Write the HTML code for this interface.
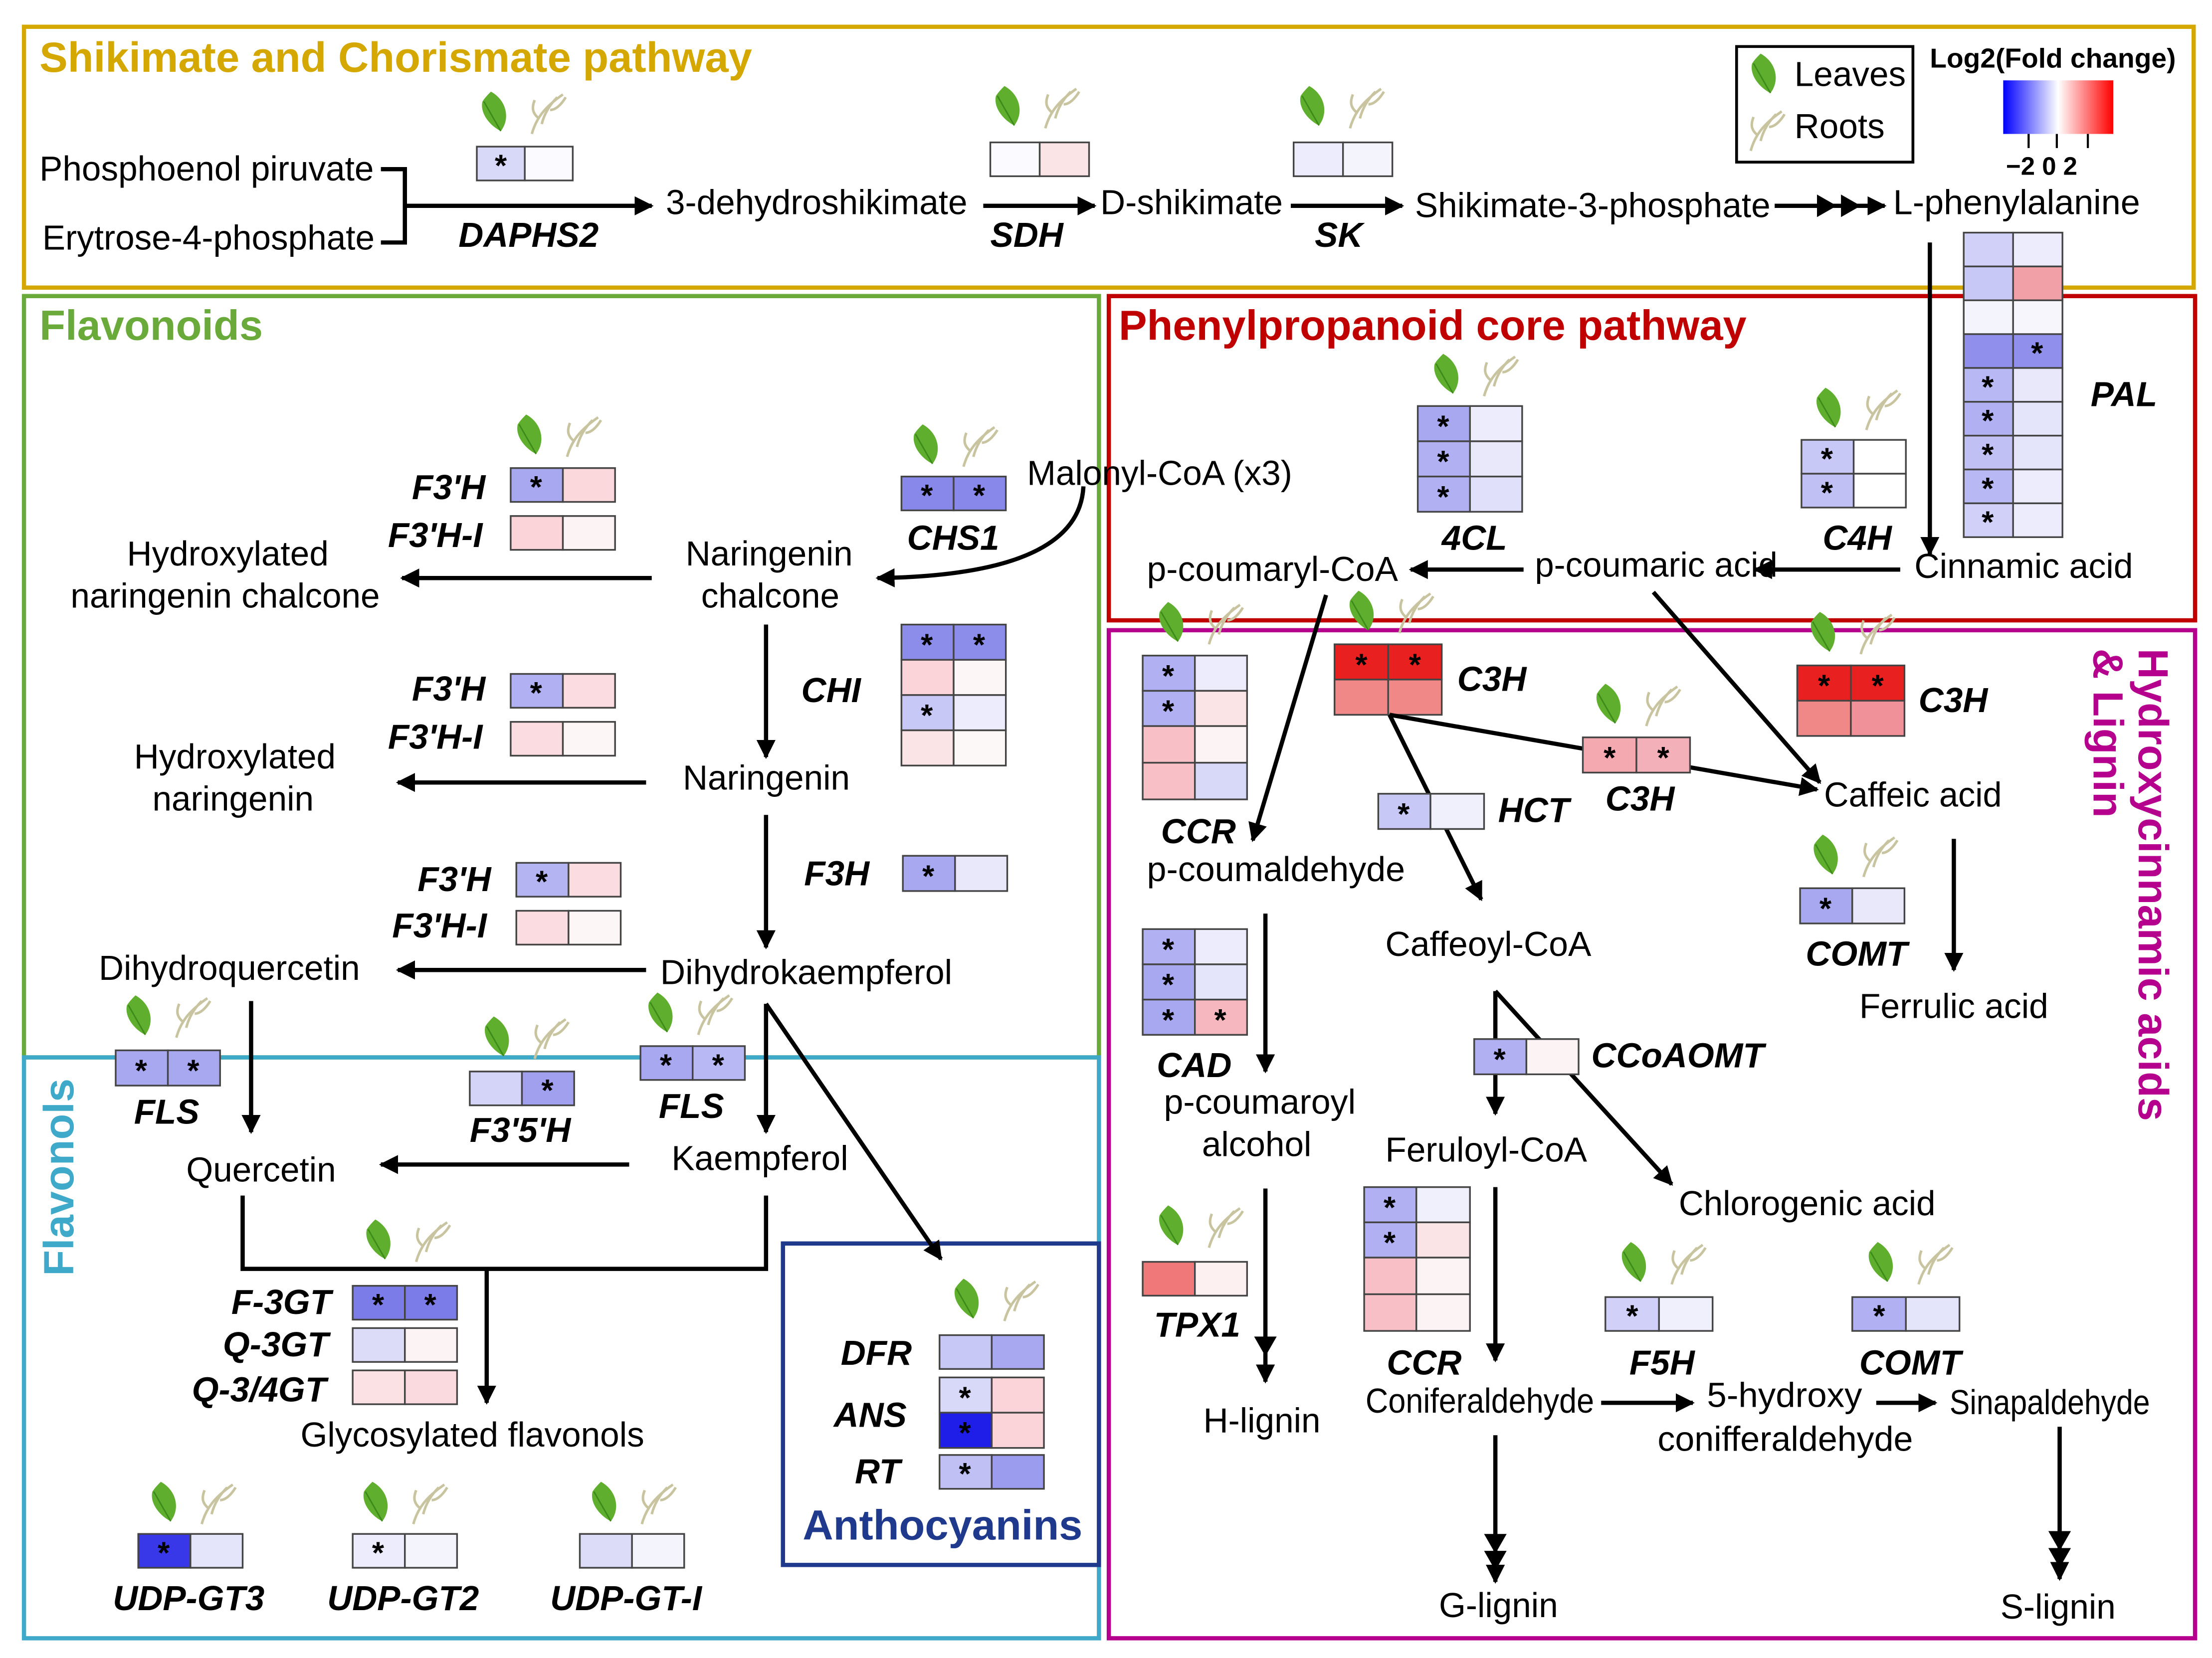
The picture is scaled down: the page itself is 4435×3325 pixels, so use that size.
<!DOCTYPE html>
<html><head><meta charset="utf-8"><style>html,body{margin:0;padding:0;background:#fff}svg{display:block}</style></head><body>
<svg xmlns="http://www.w3.org/2000/svg" width="4435" height="3325" viewBox="0 0 1568 1176" preserveAspectRatio="none" font-family="Liberation Sans, Arial, sans-serif">
<defs>
<marker id="a" viewBox="0 0 10 10" refX="9" refY="5" markerWidth="4.5" markerHeight="4.5" orient="auto"><path d="M0,0L10,5L0,10z" fill="#000"/></marker>
<linearGradient id="g" x1="0" x2="1"><stop offset="0" stop-color="#0000ff"/><stop offset="0.5" stop-color="#fff"/><stop offset="1" stop-color="#ff0000"/></linearGradient>
<g id="lf"><path d="M-2,-15 C9,-9 12,4 5,13 C-3,9 -10,0 -8,-8 C-6,-11 -4,-13 -2,-15z" fill="#5FAE2E"/><path d="M-7,-8 C-3,-1 1,6 5,13" stroke="#3c8a1a" stroke-width="1" fill="none"/></g>
<g id="rt" fill="none" stroke="#C8C4A0" stroke-width="1.8"><path d="M-9,15 C-6,4 0,-4 13,-13"/><path d="M-2,8 C0,0 4,-6 9,-11"/><path d="M-4,4 C-9,0 -9,-4 -7,-9"/><path d="M4,-2 C8,-2 12,-6 15,-11"/></g>
<g id="lr"><use href="#lf"/><use href="#rt" x="36"/></g>
</defs>
<style>
text{font-size:24.5px;fill:#000}
.g{font-weight:bold;font-style:italic;font-size:24.5px}
.s{font-size:22px;font-weight:bold;text-anchor:middle}
.ln{stroke:#000;stroke-width:3;fill:none}
.c{stroke:#444;stroke-width:1.2}
.t{font-size:30px;font-weight:bold}
</style>
<rect width="1568" height="1176" fill="#fff"/>
<rect x="17" y="19" width="1538" height="185" fill="none" stroke="#D4A800" stroke-width="3"/>
<rect x="17" y="210" width="762" height="540" fill="none" stroke="#6AAA3A" stroke-width="3"/>
<rect x="17" y="750" width="762" height="412" fill="none" stroke="#3FA9C9" stroke-width="3"/>
<rect x="786" y="210" width="770" height="230" fill="none" stroke="#C00000" stroke-width="3"/>
<rect x="786" y="447" width="770" height="715" fill="none" stroke="#B4008C" stroke-width="3"/>
<rect x="555" y="882" width="224" height="228" fill="#fff" stroke="#1F3A8C" stroke-width="3"/>
<text x="28" y="51" class="t" style="fill:#D4A800">Shikimate and Chorismate pathway</text>
<text x="28" y="241" class="t" style="fill:#6AAA3A">Flavonoids</text>
<text x="793" y="241" class="t" style="fill:#C00000">Phenylpropanoid core pathway</text>
<text transform="translate(52,905) rotate(-90)" class="t" style="fill:#3FA9C9">Flavonols</text>
<text transform="translate(1516,460) rotate(90)" class="t" style="fill:#B4008C">Hydroxycinnamic acids</text>
<text transform="translate(1484,460) rotate(90)" class="t" style="fill:#B4008C">&amp; Lignin</text>
<text x="569" y="1092" class="t" style="fill:#1F3A8C">Anthocyanins</text>

<rect x="1231" y="33" width="125" height="82" fill="#fff" stroke="#000" stroke-width="2"/>
<use href="#lf" x="1250" y="53"/><text x="1272" y="61">Leaves</text>
<use href="#rt" x="1250" y="92"/><text x="1272" y="98">Roots</text>
<text x="1368" y="48" style="font-size:19.5px;font-weight:bold">Log2(Fold change)</text>
<rect x="1420" y="57" width="78" height="38" fill="url(#g)"/>
<path d="M1438,95v10M1458,95v10M1480,95v10" stroke="#000" stroke-width="1.5"/>
<text x="1422" y="124" style="font-size:18px;font-weight:bold">−2 0 2</text>

<text x="28" y="128">Phosphoenol piruvate</text>
<text x="30" y="177">Erytrose-4-phosphate</text>
<path class="ln" d="M270,120H287V172H270"/>
<path class="ln" d="M287,146H462" marker-end="url(#a)"/>
<use href="#lr" x="350" y="80"/>
<rect class="c" x="338" y="104" width="34" height="24" fill="#D8D8F8"/><rect class="c" x="372" y="104" width="34" height="24" fill="#fafaff"/>
<text class="s" x="355" y="125">*</text>
<text class="g" x="325" y="175">DAPHS2</text>
<text x="472" y="152">3-dehydroshikimate</text>
<path class="ln" d="M697,146H776" marker-end="url(#a)"/>
<use href="#lr" x="714" y="76"/>
<rect class="c" x="702" y="101" width="35" height="24" fill="#fafaff"/><rect class="c" x="737" y="101" width="35" height="24" fill="#FBE4E6"/>
<text class="g" x="702" y="175">SDH</text>
<text x="780" y="152">D-shikimate</text>
<path class="ln" d="M915,146H994" marker-end="url(#a)"/>
<use href="#lr" x="930" y="76"/>
<rect class="c" x="917" y="101" width="35" height="24" fill="#ECECFC"/><rect class="c" x="952" y="101" width="35" height="24" fill="#F4F4FC"/>
<text class="g" x="932" y="175">SK</text>
<text x="1003" y="154" textLength="252" lengthAdjust="spacingAndGlyphs">Shikimate-3-phosphate</text>
<path class="ln" d="M1258,146H1336" marker-end="url(#a)"/>
<path d="M1288,138l14,8l-14,8z M1305,138l14,8l-14,8z" fill="#000"/>
<text x="1342" y="152" textLength="175" lengthAdjust="spacingAndGlyphs">L-phenylalanine</text>

<g class="c">
<rect x="1392" y="165" width="35" height="24" fill="#D0D0F8"/><rect x="1427" y="165" width="35" height="24" fill="#ECECFC"/>
<rect x="1392" y="189" width="35" height="24" fill="#C8C8F6"/><rect x="1427" y="189" width="35" height="24" fill="#F2A0A8"/>
<rect x="1392" y="213" width="35" height="24" fill="#F4F4FC"/><rect x="1427" y="213" width="35" height="24" fill="#F6F6FC"/>
<rect x="1392" y="237" width="35" height="24" fill="#9090EC"/><rect x="1427" y="237" width="35" height="24" fill="#9090EC"/>
<rect x="1392" y="261" width="35" height="24" fill="#B8B8F4"/><rect x="1427" y="261" width="35" height="24" fill="#E8E8FA"/>
<rect x="1392" y="285" width="35" height="24" fill="#B0B0F2"/><rect x="1427" y="285" width="35" height="24" fill="#E4E4FA"/>
<rect x="1392" y="309" width="35" height="24" fill="#C0C0F4"/><rect x="1427" y="309" width="35" height="24" fill="#E4E4FA"/>
<rect x="1392" y="333" width="35" height="24" fill="#B8B8F4"/><rect x="1427" y="333" width="35" height="24" fill="#ECECFC"/>
<rect x="1392" y="357" width="35" height="24" fill="#D0D0F8"/><rect x="1427" y="357" width="35" height="24" fill="#ECECFC"/>
</g>
<text class="s" x="1444" y="258">*</text><text class="s" x="1409" y="282">*</text><text class="s" x="1409" y="306">*</text><text class="s" x="1409" y="330">*</text><text class="s" x="1409" y="354">*</text><text class="s" x="1409" y="378">*</text>
<text class="g" x="1482" y="288">PAL</text>
<path class="ln" d="M1368,172V393" marker-end="url(#a)"/>

<use href="#lr" x="1025" y="266"/>
<g class="c"><rect x="1005" y="288" width="37" height="25" fill="#A8A8F0"/><rect x="1042" y="288" width="37" height="25" fill="#ECECFC"/>
<rect x="1005" y="313" width="37" height="25" fill="#B0B0F2"/><rect x="1042" y="313" width="37" height="25" fill="#E8E8FA"/>
<rect x="1005" y="338" width="37" height="25" fill="#B0B0F2"/><rect x="1042" y="338" width="37" height="25" fill="#E0E0FA"/></g>
<text class="s" x="1023" y="310">*</text><text class="s" x="1023" y="335">*</text><text class="s" x="1023" y="360">*</text>
<text class="g" x="1022" y="390">4CL</text>
<use href="#lr" x="1296" y="290"/>
<g class="c"><rect x="1277" y="312" width="37" height="24" fill="#C8C8F6"/><rect x="1314" y="312" width="37" height="24" fill="#fff"/>
<rect x="1277" y="336" width="37" height="24" fill="#C0C0F4"/><rect x="1314" y="336" width="37" height="24" fill="#fff"/></g>
<text class="s" x="1295" y="333">*</text><text class="s" x="1295" y="357">*</text>
<text class="g" x="1292" y="390">C4H</text>
<text x="1357" y="410" textLength="155" lengthAdjust="spacingAndGlyphs">Cinnamic acid</text>
<text x="1088" y="409" textLength="172" lengthAdjust="spacingAndGlyphs">p-coumaric acid</text>
<text x="813" y="412" textLength="178" lengthAdjust="spacingAndGlyphs">p-coumaryl-CoA</text>
<path class="ln" d="M1347,404H1244" marker-end="url(#a)"/>
<path class="ln" d="M1080,404H1000" marker-end="url(#a)"/>
<text x="728" y="344" textLength="188" lengthAdjust="spacingAndGlyphs">Malonyl-CoA (x3)</text>
<use href="#lr" x="656" y="316"/>
<g class="c"><rect x="639" y="338" width="37" height="24" fill="#8888EA"/><rect x="676" y="338" width="37" height="24" fill="#8888EA"/></g>
<text class="s" x="657" y="359">*</text><text class="s" x="694" y="359">*</text>
<text class="g" x="643" y="390">CHS1</text>
<path class="ln" d="M768,345 Q765,408 622,410" marker-end="url(#a)"/>

<text x="486" y="401">Naringenin</text><text x="497" y="431">chalcone</text>
<path class="ln" d="M462,410H285" marker-end="url(#a)"/>
<text x="90" y="401">Hydroxylated</text><text x="50" y="431">naringenin chalcone</text>
<use href="#lr" x="375" y="309"/>
<g class="c"><rect x="362" y="332" width="37" height="24" fill="#A8A8F0"/><rect x="399" y="332" width="37" height="24" fill="#FBD8DC"/>
<rect x="362" y="366" width="37" height="24" fill="#FAD4D8"/><rect x="399" y="366" width="37" height="24" fill="#FCF4F4"/></g>
<text class="s" x="380" y="353">*</text>
<text class="g" x="292" y="354">F3'H</text><text class="g" x="275" y="388">F3'H-I</text>
<path class="ln" d="M543,443V537" marker-end="url(#a)"/>
<text class="g" x="568" y="498">CHI</text>
<g class="c"><rect x="639" y="443" width="37" height="25" fill="#8C8CEA"/><rect x="676" y="443" width="37" height="25" fill="#8C8CEA"/>
<rect x="639" y="468" width="37" height="25" fill="#FAD4D8"/><rect x="676" y="468" width="37" height="25" fill="#FCF6F6"/>
<rect x="639" y="493" width="37" height="25" fill="#C8C8F6"/><rect x="676" y="493" width="37" height="25" fill="#ECECFC"/>
<rect x="639" y="518" width="37" height="25" fill="#FBE4E6"/><rect x="676" y="518" width="37" height="25" fill="#FCF8F8"/></g>
<text class="s" x="657" y="465">*</text><text class="s" x="694" y="465">*</text><text class="s" x="657" y="515">*</text>
<text x="484" y="560">Naringenin</text>
<path class="ln" d="M458,555H282" marker-end="url(#a)"/>
<text x="95" y="545">Hydroxylated</text><text x="108" y="575">naringenin</text>
<g class="c"><rect x="362" y="478" width="37" height="24" fill="#B0B0F2"/><rect x="399" y="478" width="37" height="24" fill="#FBDCE0"/>
<rect x="362" y="512" width="37" height="24" fill="#FBDCE0"/><rect x="399" y="512" width="37" height="24" fill="#FCF6F6"/></g>
<text class="s" x="380" y="499">*</text>
<text class="g" x="292" y="497">F3'H</text><text class="g" x="275" y="531">F3'H-I</text>
<text class="g" x="570" y="628">F3H</text>
<g class="c"><rect x="640" y="607" width="37" height="25" fill="#A8A8F0"/><rect x="677" y="607" width="37" height="25" fill="#E8E8FA"/></g>
<text class="s" x="658" y="629">*</text>
<path class="ln" d="M543,578V672" marker-end="url(#a)"/>
<g class="c"><rect x="366" y="612" width="37" height="24" fill="#B4B4F2"/><rect x="403" y="612" width="37" height="24" fill="#FBDCE0"/>
<rect x="366" y="646" width="37" height="24" fill="#FBDCE0"/><rect x="403" y="646" width="37" height="24" fill="#FCF6F6"/></g>
<text class="s" x="384" y="633">*</text>
<text class="g" x="296" y="632">F3'H</text><text class="g" x="278" y="665">F3'H-I</text>
<text x="70" y="695">Dihydroquercetin</text>
<text x="468" y="698" textLength="207" lengthAdjust="spacingAndGlyphs">Dihydrokaempferol</text>
<path class="ln" d="M458,688H282" marker-end="url(#a)"/>
<path class="ln" d="M178,710V803" marker-end="url(#a)"/>
<path class="ln" d="M543,712V803" marker-end="url(#a)"/>
<path class="ln" d="M543,712L667,893" marker-end="url(#a)"/>

<use href="#lr" x="98" y="721"/>
<g class="c"><rect x="82" y="745" width="37" height="25" fill="#A8A8F0"/><rect x="119" y="745" width="37" height="25" fill="#A8A8F0"/></g>
<text class="s" x="100" y="767">*</text><text class="s" x="137" y="767">*</text>
<text class="g" x="95" y="797">FLS</text>
<use href="#lr" x="352" y="736"/>
<g class="c"><rect x="333" y="760" width="37" height="24" fill="#D4D4F8"/><rect x="370" y="760" width="37" height="24" fill="#A0A0EE"/></g>
<text class="s" x="388" y="781">*</text>
<text class="g" x="333" y="810">F3'5'H</text>
<use href="#lr" x="468" y="719"/>
<g class="c"><rect x="454" y="742" width="37" height="24" fill="#A8A8F0"/><rect x="491" y="742" width="37" height="24" fill="#B8B8F4"/></g>
<text class="s" x="472" y="763">*</text><text class="s" x="509" y="763">*</text>
<text class="g" x="467" y="793">FLS</text>
<text x="132" y="838">Quercetin</text>
<text x="476" y="830">Kaempferol</text>
<path class="ln" d="M446,826H270" marker-end="url(#a)"/>
<path class="ln" d="M172,848V900H543V848"/>
<path class="ln" d="M345,900V995" marker-end="url(#a)"/>
<use href="#lr" x="268" y="880"/>
<g class="c"><rect x="250" y="912" width="37" height="24" fill="#7C7CE8"/><rect x="287" y="912" width="37" height="24" fill="#7C7CE8"/>
<rect x="250" y="942" width="37" height="24" fill="#DCDCF8"/><rect x="287" y="942" width="37" height="24" fill="#FCF4F4"/>
<rect x="250" y="972" width="37" height="24" fill="#FBE0E4"/><rect x="287" y="972" width="37" height="24" fill="#FADADE"/></g>
<text class="s" x="268" y="933">*</text><text class="s" x="305" y="933">*</text>
<text class="g" x="164" y="932">F-3GT</text><text class="g" x="158" y="962">Q-3GT</text><text class="g" x="136" y="994">Q-3/4GT</text>
<text x="213" y="1026">Glycosylated flavonols</text>
<use href="#lr" x="116" y="1066"/><use href="#lr" x="266" y="1066"/><use href="#lr" x="428" y="1066"/>
<g class="c"><rect x="98" y="1088" width="37" height="24" fill="#3838E8"/><rect x="135" y="1088" width="37" height="24" fill="#E4E4FA"/>
<rect x="250" y="1088" width="37" height="24" fill="#ECECFC"/><rect x="287" y="1088" width="37" height="24" fill="#F4F4FC"/>
<rect x="411" y="1088" width="37" height="24" fill="#DCDCF8"/><rect x="448" y="1088" width="37" height="24" fill="#F4F4FC"/></g>
<text class="s" x="116" y="1109">*</text><text class="s" x="268" y="1109">*</text>
<text class="g" x="80" y="1142">UDP-GT3</text><text class="g" x="232" y="1142">UDP-GT2</text><text class="g" x="390" y="1142">UDP-GT-I</text>

<use href="#lr" x="685" y="922"/>
<g class="c"><rect x="666" y="947" width="37" height="24" fill="#C8C8F6"/><rect x="703" y="947" width="37" height="24" fill="#A8A8F0"/>
<rect x="666" y="977" width="37" height="25" fill="#D8D8F8"/><rect x="703" y="977" width="37" height="25" fill="#FAD4D8"/>
<rect x="666" y="1002" width="37" height="25" fill="#1E1EE8"/><rect x="703" y="1002" width="37" height="25" fill="#FAD4D8"/>
<rect x="666" y="1032" width="37" height="24" fill="#C0C0F4"/><rect x="703" y="1032" width="37" height="24" fill="#9C9CEE"/></g>
<text class="s" x="684" y="999">*</text><text class="s" x="684" y="1024">*</text><text class="s" x="684" y="1053">*</text>
<text class="g" x="596" y="968">DFR</text><text class="g" x="591" y="1012">ANS</text><text class="g" x="606" y="1052">RT</text>

<use href="#lr" x="830" y="442"/><use href="#lr" x="965" y="434"/><use href="#lr" x="1292" y="449"/>
<g class="c"><rect x="810" y="465" width="37" height="25" fill="#B0B0F2"/><rect x="847" y="465" width="37" height="25" fill="#ECECFC"/>
<rect x="810" y="490" width="37" height="25" fill="#B0B0F2"/><rect x="847" y="490" width="37" height="25" fill="#FBE4E6"/>
<rect x="810" y="515" width="37" height="26" fill="#F8C0C6"/><rect x="847" y="515" width="37" height="26" fill="#FCF4F4"/>
<rect x="810" y="541" width="37" height="26" fill="#F8C0C6"/><rect x="847" y="541" width="37" height="26" fill="#D8D8F8"/></g>
<text class="s" x="828" y="487">*</text><text class="s" x="828" y="512">*</text>
<text class="g" x="823" y="598">CCR</text>
<text x="813" y="625" textLength="183" lengthAdjust="spacingAndGlyphs">p-coumaldehyde</text>
<path class="ln" d="M940,422L888,596" marker-end="url(#a)"/>
<g class="c"><rect x="946" y="457" width="38" height="25" fill="#E82020"/><rect x="984" y="457" width="38" height="25" fill="#E82020"/>
<rect x="946" y="482" width="38" height="25" fill="#F08888"/><rect x="984" y="482" width="38" height="25" fill="#F08888"/></g>
<text class="s" x="965" y="479">*</text><text class="s" x="1003" y="479">*</text>
<text class="g" x="1033" y="490">C3H</text>
<path class="ln" d="M985,507L1288,560" marker-end="url(#a)"/>
<path class="ln" d="M985,507L1050,638" marker-end="url(#a)"/>
<use href="#lr" x="1140" y="500"/>
<g class="c"><rect x="1122" y="523" width="38" height="25" fill="#F4A8B0"/><rect x="1160" y="523" width="38" height="25" fill="#F4B0B8"/></g>
<text class="s" x="1141" y="545">*</text><text class="s" x="1179" y="545">*</text>
<text class="g" x="1138" y="575">C3H</text>
<g class="c"><rect x="977" y="563" width="37" height="25" fill="#C8C8F6"/><rect x="1014" y="563" width="38" height="25" fill="#F0F0FC"/></g>
<text class="s" x="995" y="585">*</text>
<text class="g" x="1062" y="583">HCT</text>
<g class="c"><rect x="1274" y="472" width="38" height="25" fill="#E82020"/><rect x="1312" y="472" width="38" height="25" fill="#E82020"/>
<rect x="1274" y="497" width="38" height="25" fill="#F08888"/><rect x="1312" y="497" width="38" height="25" fill="#F09098"/></g>
<text class="s" x="1293" y="494">*</text><text class="s" x="1331" y="494">*</text>
<text class="g" x="1360" y="505">C3H</text>
<path class="ln" d="M1172,420L1290,555" marker-end="url(#a)"/>
<text x="1293" y="572" textLength="126" lengthAdjust="spacingAndGlyphs">Caffeic acid</text>
<use href="#lr" x="1294" y="607"/>
<g class="c"><rect x="1276" y="630" width="37" height="25" fill="#A8A8F0"/><rect x="1313" y="630" width="37" height="25" fill="#E8E8FA"/></g>
<text class="s" x="1294" y="652">*</text>
<text class="g" x="1280" y="685">COMT</text>
<path class="ln" d="M1385,595V688" marker-end="url(#a)"/>
<text x="1318" y="722" textLength="134" lengthAdjust="spacingAndGlyphs">Ferrulic acid</text>
<text x="982" y="678" textLength="146" lengthAdjust="spacingAndGlyphs">Caffeoyl-CoA</text>
<path class="ln" d="M1060,703V790" marker-end="url(#a)"/>
<path class="ln" d="M1060,703L1185,840" marker-end="url(#a)"/>
<g class="c"><rect x="1045" y="737" width="37" height="25" fill="#B0B0F2"/><rect x="1082" y="737" width="37" height="25" fill="#FCF4F4"/></g>
<text class="s" x="1063" y="759">*</text>
<text class="g" x="1128" y="757">CCoAOMT</text>
<g class="c"><rect x="810" y="659" width="37" height="25" fill="#B0B0F2"/><rect x="847" y="659" width="37" height="25" fill="#ECECFC"/>
<rect x="810" y="684" width="37" height="25" fill="#A8A8F0"/><rect x="847" y="684" width="37" height="25" fill="#E4E4FA"/>
<rect x="810" y="709" width="37" height="25" fill="#A8A8F0"/><rect x="847" y="709" width="37" height="25" fill="#F6B8BE"/></g>
<text class="s" x="828" y="681">*</text><text class="s" x="828" y="706">*</text><text class="s" x="828" y="731">*</text><text class="s" x="865" y="731">*</text>
<text class="g" x="820" y="764">CAD</text>
<path class="ln" d="M897,648V760" marker-end="url(#a)"/>
<text x="825" y="790" textLength="136" lengthAdjust="spacingAndGlyphs">p-coumaroyl</text><text x="852" y="820">alcohol</text>
<text x="982" y="824" textLength="143" lengthAdjust="spacingAndGlyphs">Feruloyl-CoA</text>
<text x="1190" y="862" textLength="182" lengthAdjust="spacingAndGlyphs">Chlorogenic acid</text>
<use href="#lr" x="830" y="870"/>
<g class="c"><rect x="810" y="895" width="37" height="24" fill="#F07878"/><rect x="847" y="895" width="37" height="24" fill="#FCF0F0"/></g>
<text class="g" x="818" y="948">TPX1</text>
<path class="ln" d="M897,843V980" marker-end="url(#a)"/>
<path d="M889,948l8,14l8,-14z" fill="#000"/>
<text x="853" y="1016">H-lignin</text>
<g class="c"><rect x="967" y="842" width="37" height="25" fill="#B0B0F2"/><rect x="1004" y="842" width="38" height="25" fill="#F0F0FC"/>
<rect x="967" y="867" width="37" height="25" fill="#B0B0F2"/><rect x="1004" y="867" width="38" height="25" fill="#FBE4E6"/>
<rect x="967" y="892" width="37" height="26" fill="#F8C0C6"/><rect x="1004" y="892" width="38" height="26" fill="#FCF4F4"/>
<rect x="967" y="918" width="37" height="26" fill="#F8C0C6"/><rect x="1004" y="918" width="38" height="26" fill="#FCF4F4"/></g>
<text class="s" x="985" y="864">*</text><text class="s" x="985" y="889">*</text>
<text class="g" x="983" y="975">CCR</text>
<path class="ln" d="M1060,842V965" marker-end="url(#a)"/>
<text x="968" y="1002" textLength="162" lengthAdjust="spacingAndGlyphs">Coniferaldehyde</text>
<path class="ln" d="M1135,995H1200" marker-end="url(#a)"/>
<text x="1210" y="998" textLength="110" lengthAdjust="spacingAndGlyphs">5-hydroxy</text><text x="1175" y="1029" textLength="181" lengthAdjust="spacingAndGlyphs">conifferaldehyde</text>
<path class="ln" d="M1330,995H1372" marker-end="url(#a)"/>
<text x="1382" y="1003" textLength="142" lengthAdjust="spacingAndGlyphs">Sinapaldehyde</text>
<use href="#lr" x="1158" y="896"/><use href="#lr" x="1333" y="896"/>
<g class="c"><rect x="1138" y="920" width="38" height="24" fill="#D0D0F8"/><rect x="1176" y="920" width="38" height="24" fill="#F0F0FC"/>
<rect x="1313" y="920" width="38" height="24" fill="#B0B0F2"/><rect x="1351" y="920" width="38" height="24" fill="#E4E4FA"/></g>
<text class="s" x="1157" y="941">*</text><text class="s" x="1332" y="941">*</text>
<text class="g" x="1155" y="975">F5H</text><text class="g" x="1318" y="975">COMT</text>
<path class="ln" d="M1060,1018V1122" marker-end="url(#a)"/>
<path d="M1052,1088l8,14l8,-14z M1052,1100l8,14l8,-14z" fill="#000"/>
<text x="1020" y="1147">G-lignin</text>
<path class="ln" d="M1460,1012V1120" marker-end="url(#a)"/>
<path d="M1452,1086l8,14l8,-14z M1452,1098l8,14l8,-14z" fill="#000"/>
<text x="1418" y="1148">S-lignin</text>
</svg>
</body></html>
